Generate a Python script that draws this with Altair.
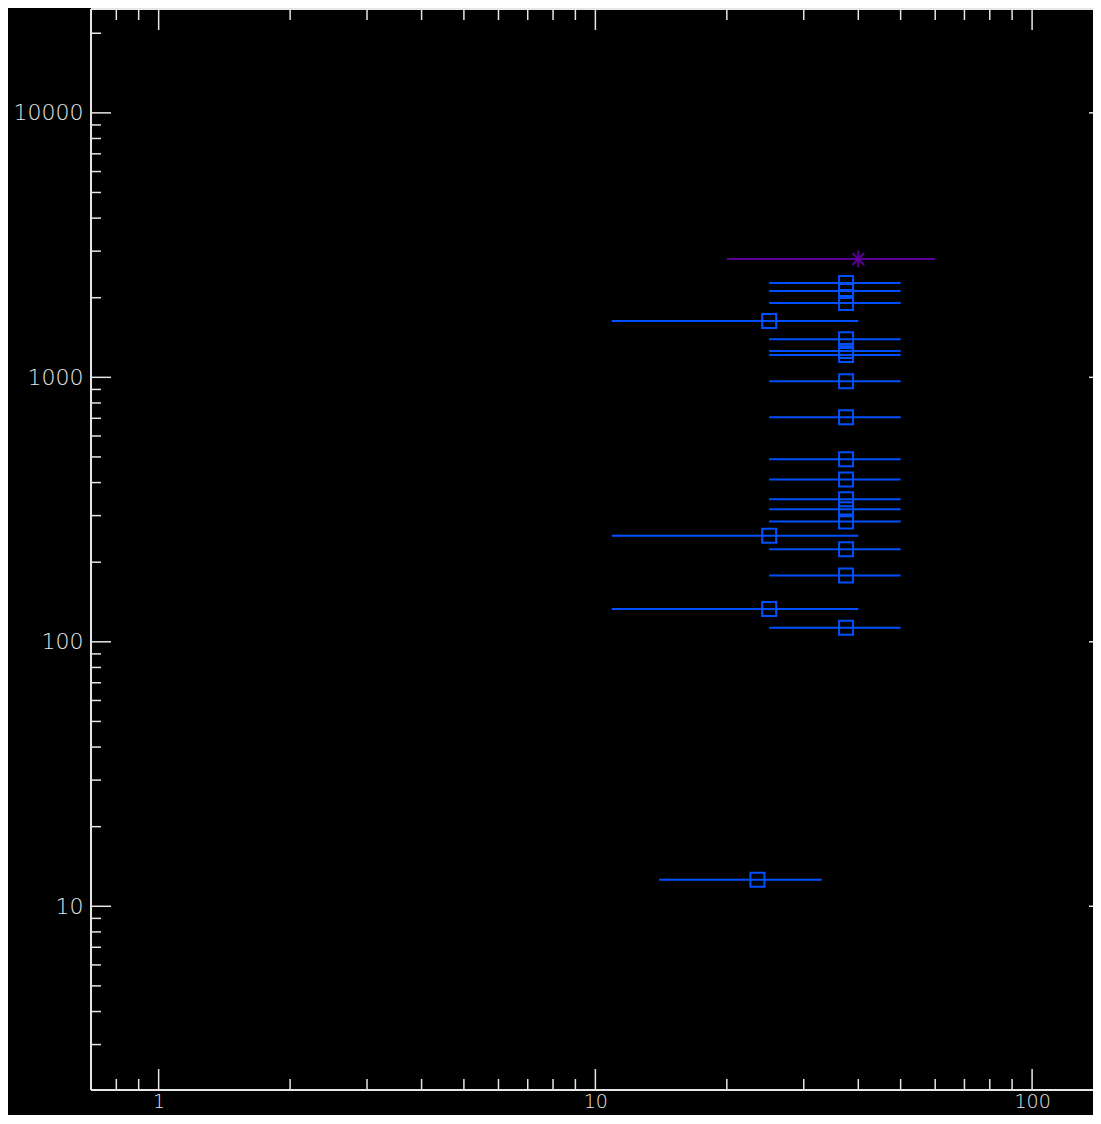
import altair as alt
import pandas as pd

# ---- data ----
blue_x  = [37.5] * 16 + [25.0, 25.0, 25.0] + [23.5]
blue_lo = [25.0] * 16 + [10.9, 10.9, 10.9] + [14.0]
blue_hi = [50.0] * 16 + [40.0, 40.0, 40.0] + [33.0]
blue_y  = [2275, 2122, 1911, 1393, 1258, 1215, 966, 706, 490, 411,
           346, 317, 285, 224, 178, 113,
           1634, 252, 133,
           12.6]

star_x  = [40.0]
star_lo = [20.0]
star_hi = [60.0]
star_y  = [2800]

x_major = [1, 10, 100]
x_minor = [0.8, 0.9, 2, 3, 4, 5, 6, 7, 8, 9, 20, 30, 40, 50, 60, 70, 80, 90]
y_major = [10, 100, 1000, 10000]
y_minor = [3, 4, 5, 6, 7, 8, 9, 20, 30, 40, 50, 60, 70, 80, 90,
           200, 300, 400, 500, 600, 700, 800, 900,
           2000, 3000, 4000, 5000, 6000, 7000, 8000, 9000, 20000]

# ---- styling ----
BLUE = "#0050ff"
PURPLE = "#5a0096"
FG = "#e6e6e6"
XR = 1018      # full x range in px (right frame edge falls just off the page)
W = 1002       # visible plot width
H = 1081
MAJ = 21
MIN = 11

XS = alt.Scale(type="log", domain=[0.7, 150], range=[0, XR], nice=False)
YS = alt.Scale(type="log", domain=[2.02, 24700], nice=False)

AX = alt.Axis(values=x_major, format="d", ticks=False, domain=False, grid=False,
              labelFontSize=19, labelFont="DejaVu Sans", labelFontWeight=200,
              labelColor=FG, labelPadding=2, labelFlush=False,
              labelOverlap=False, title=None)
AY = alt.Axis(values=y_major, format="d", ticks=False, domain=False, grid=False,
              labelFontSize=22, labelFont="DejaVu Sans", labelFontWeight=200,
              labelColor=FG, labelPadding=8, labelOverlap=False, title=None)

blue_df = pd.DataFrame({"x": blue_x, "lo": blue_lo, "hi": blue_hi, "y": blue_y})
star_df = pd.DataFrame({"x": star_x, "lo": star_lo, "hi": star_hi, "y": star_y})
xmaj_df = pd.DataFrame({"v": x_major})
xmin_df = pd.DataFrame({"v": x_minor})
ymaj_df = pd.DataFrame({"v": y_major})
ymin_df = pd.DataFrame({"v": y_minor})
one = pd.DataFrame({"d": [0]})

blue_bars = alt.Chart(blue_df).mark_rule(color=BLUE, strokeWidth=2).encode(
    x=alt.X("lo:Q", scale=XS, axis=AX), x2="hi:Q",
    y=alt.Y("y:Q", scale=YS, axis=AY))
blue_pts = alt.Chart(blue_df).mark_point(
    shape="square", filled=False, size=196, strokeWidth=2, color=BLUE, opacity=1
).encode(x=alt.X("x:Q", scale=XS, axis=AX), y=alt.Y("y:Q", scale=YS, axis=AY))

star_bar = alt.Chart(star_df).mark_rule(color=PURPLE, strokeWidth=2).encode(
    x=alt.X("lo:Q", scale=XS, axis=AX), x2="hi:Q",
    y=alt.Y("y:Q", scale=YS, axis=AY))
star_pt = alt.Chart(star_df).mark_point(
    shape="M-1,0L1,0M0,-1L0,1M-0.7,-0.7L0.7,0.7M-0.7,0.7L0.7,-0.7",
    filled=False, size=289, strokeWidth=2, color=PURPLE, opacity=1
).encode(x=alt.X("x:Q", scale=XS, axis=AX), y=alt.Y("y:Q", scale=YS, axis=AY))

def xticks(df, y0, y1):
    return alt.Chart(df).mark_rule(color=FG, strokeWidth=1.5).encode(
        x=alt.X("v:Q", scale=XS, axis=AX), y=alt.value(y0), y2=alt.value(y1))

def yticks(df, x0, x1):
    return alt.Chart(df).mark_rule(color=FG, strokeWidth=1.5).encode(
        y=alt.Y("v:Q", scale=YS, axis=AY), x=alt.value(x0), x2=alt.value(x1))

ticks = [
    xticks(xmaj_df, H, H - MAJ), xticks(xmin_df, H, H - MIN),
    xticks(xmaj_df, 0, MAJ), xticks(xmin_df, 0, MIN),
    yticks(ymaj_df, 0, MAJ - 1), yticks(ymin_df, 0, MIN - 1),
    yticks(ymaj_df, XR - MAJ + 1, XR), yticks(ymin_df, XR - MIN + 1, XR),
]

frame = [
    alt.Chart(one).mark_rule(color=FG, strokeWidth=2).encode(
        x=alt.value(0), x2=alt.value(XR), y=alt.value(0)),
    alt.Chart(one).mark_rule(color=FG, strokeWidth=2).encode(
        x=alt.value(0), x2=alt.value(XR), y=alt.value(H)),
    alt.Chart(one).mark_rule(color=FG, strokeWidth=2).encode(
        x=alt.value(0), y=alt.value(0), y2=alt.value(H)),
]

chart = alt.layer(
    blue_bars, star_bar, *ticks, *frame, blue_pts, star_pt
).properties(
    width=W, height=H,
    padding={"left": 83, "top": 1, "right": 0, "bottom": 25},
    autosize=alt.AutoSizeParams(type="none"),
    background="black",
).configure_view(strokeWidth=0)

chart.save("out.html", embed_options={"renderer": "svg", "actions": False})
